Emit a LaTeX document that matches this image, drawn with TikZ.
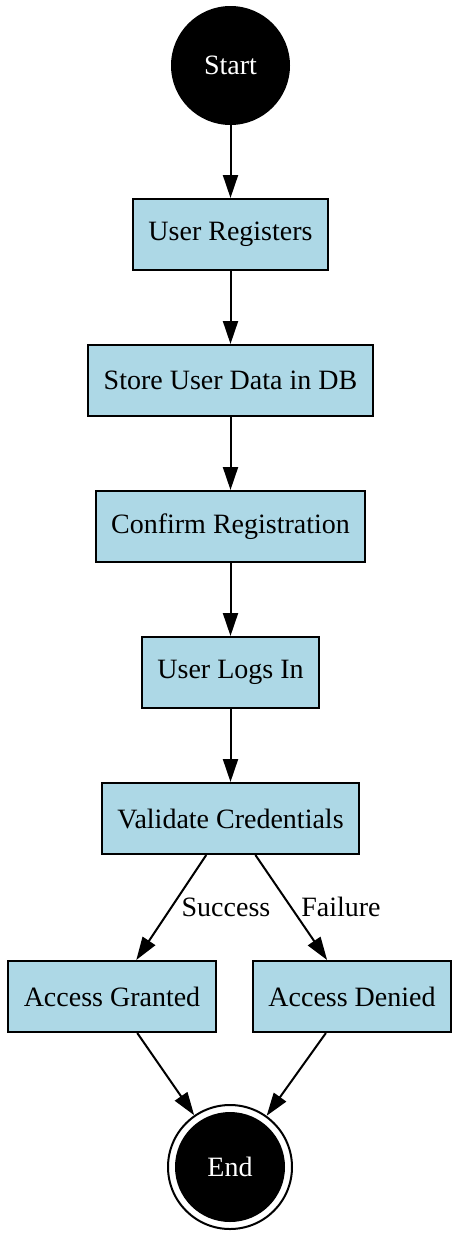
\documentclass[tikz,border=0pt]{standalone}
\usepackage{fontspec}
\setmainfont{Liberation Serif}
\usetikzlibrary{arrows.meta}
\definecolor{boxblue}{RGB}{173,216,230}
\begin{document}
\begin{tikzpicture}[x=1pt,y=-1pt,
  every node/.style={font=\fontsize{28}{34}\selectfont},
  stepbox/.style={draw=black, line width=2pt, fill=boxblue, rectangle, minimum height=71pt, inner xsep=15.5pt},
  arr/.style={line width=2pt, -{Triangle[length=23pt,width=15pt]}},
  lbl/.style={inner sep=0pt}]
\useasboundingbox (0,0) rectangle (460,1237);
\node[circle, fill=black, text=white, minimum size=119pt, inner sep=0pt] (start) at (230.5,65.5) {Start};
\node[stepbox] (reg) at (230.5,234.5) {User Registers};
\node[stepbox] (store) at (230.5,380.5) {Store User Data in DB};
\node[stepbox] (conf) at (230.5,526.5) {Confirm Registration};
\node[stepbox] (login) at (230.5,672.5) {User Logs In};
\node[stepbox] (val) at (230.5,818.5) {Validate Credentials};
\node[stepbox] (ag) at (112,996.5) {Access Granted};
\node[stepbox] (ad) at (352,996.5) {Access Denied};
\node[circle, draw=black, line width=2pt, minimum size=124pt, inner sep=0pt] (end) at (230,1167) {};
\node[circle, fill=black, text=white, minimum size=110pt, inner sep=0pt] (endin) at (end) {End};
\draw[arr] (start) -- (reg);
\draw[arr] (reg) -- (store);
\draw[arr] (store) -- (conf);
\draw[arr] (conf) -- (login);
\draw[arr] (login) -- (val);
\draw[arr] (val) -- (ag);
\draw[arr] (val) -- (ad);
\draw[arr] (ag) -- (end);
\draw[arr] (ad) -- (end);
\node[lbl] (lsucc) at (226,907) {Success};
\node[lbl] (lfail) at (341,907) {Failure};
\end{tikzpicture}
\end{document}
